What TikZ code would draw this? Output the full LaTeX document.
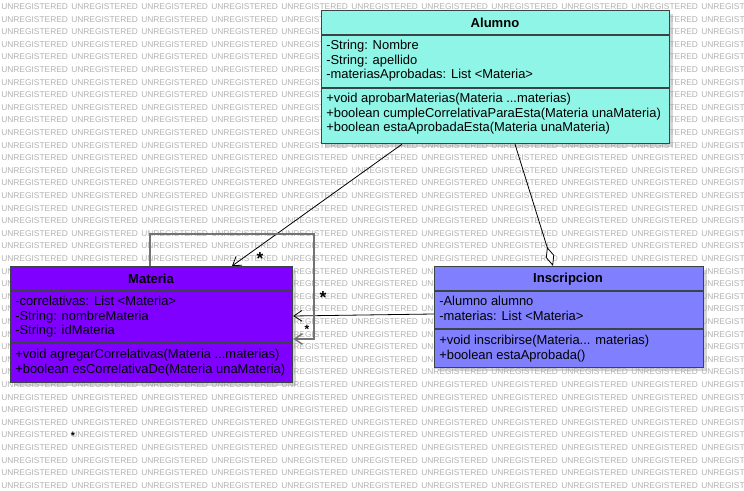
\documentclass[tikz,border=0pt]{standalone}
\usepackage{fontspec}
\setmainfont{Liberation Sans}
\usetikzlibrary{arrows.meta,shadows}
\definecolor{alumnoc}{HTML}{8FF5E6}
\definecolor{materiac}{HTML}{8000FF}
\definecolor{inscripc}{HTML}{8080FF}
\definecolor{borderc}{HTML}{3A4444}
\begin{document}
\begin{tikzpicture}[x=0.75pt,y=-0.75pt,
  wm/.style={anchor=west,inner sep=0pt,text=black!30,font=\fontsize{6.3}{6.3}\selectfont},
  classbox/.style={draw=borderc,line width=0.9pt,inner sep=0pt,anchor=north west,
    drop shadow={shadow xshift=2.5pt,shadow yshift=-2.5pt,fill=black!35,opacity=0.45}},
  title/.style={inner sep=0pt,font=\fontsize{9.8}{11}\selectfont\bfseries},
  member/.style={anchor=north west,align=left,inner sep=0pt,font=\fontsize{9.7}{10.9}\selectfont},
  sep/.style={draw=borderc,line width=0.9pt},
  assoc/.style={line width=0.6pt,-{Straight Barb[length=6pt,width=8pt]}},
  aggr/.style={line width=0.6pt,-{Diamond[fill=white,length=15pt,width=6.5pt]}},
  selfloop/.style={draw=black!55,line width=1.1pt,-{Straight Barb[length=6pt,width=8pt]}},
  mult/.style={inner sep=0pt,font=\fontsize{13}{13}\selectfont\bfseries}]
\useasboundingbox[fill=white] (0,0) rectangle (744,491);
\foreach \r in {0,...,38}
  \foreach \c in {0,...,10}
    \node[wm] at (1+70*\c,6.7+12.6*\r) {UNREGISTERED};

\node[classbox,fill=alumnoc,minimum width=261pt,minimum height=99.75pt] (alumno) at (321,10) {};
\draw[sep] (321,35) -- (669,35);
\draw[sep] (321,88) -- (669,88);
\node[title] (alumnoT) at (495,22.5) {Alumno};
\node[member] (alumnoA) at (326,40) {-String: Nombre\\-String: apellido\\-materiasAprobadas: List <Materia>};
\node[member] (alumnoM) at (326,93) {+void aprobarMaterias(Materia ...materias)\\+boolean cumpleCorrelativaParaEsta(Materia unaMateria)\\+boolean estaAprobadaEsta(Materia unaMateria)};

\node[classbox,fill=materiac,minimum width=211.5pt,minimum height=87pt] (materia) at (10,266) {};
\draw[sep] (10,291) -- (292,291);
\draw[sep] (10,343) -- (292,343);
\node[title] (materiaT) at (151,279) {Materia};
\node[member] (materiaA) at (15,296) {-correlativas: List <Materia>\\-String: nombreMateria\\-String: idMateria};
\node[member] (materiaM) at (15,349) {+void agregarCorrelativas(Materia ...materias)\\+boolean esCorrelativaDe(Materia unaMateria)};

\node[classbox,fill=inscripc,minimum width=201.75pt,minimum height=75.75pt] (inscrip) at (434,266) {};
\draw[sep] (434,291) -- (703,291);
\draw[sep] (434,329) -- (703,329);
\node[title] (inscripT) at (568,279) {Inscripcion};
\node[member] (inscripA) at (439,296) {-Alumno alumno\\-materias: List <Materia>};
\node[member] (inscripM) at (439,335) {+void inscribirse(Materia... materias)\\+boolean estaAprobada()};

\coordinate (loopc) at (314,234);
\draw[assoc] ([xshift=60.75pt]alumno.south west) -- ([xshift=166.5pt]materia.north west);
\draw[aggr] ([xshift=145.5pt]alumno.south west) -- ([xshift=89.25pt]inscrip.north west);
\draw[assoc] ([yshift=-36pt]inscrip.north west) -- ([yshift=-37.5pt]materia.north east);
\draw[selfloop] ([xshift=105pt]materia.north west) |- (loopc) |- ([yshift=-54.75pt]materia.north east);

\node[mult] (multA) at (260,259) {*};
\node[mult] (multB) at (323,298) {*};
\node[mult,font=\fontsize{9}{9}\selectfont\bfseries] (multC) at (307,329) {*};
\node[mult,font=\fontsize{8}{8}\selectfont\bfseries] (multD) at (73,436) {*};
\end{tikzpicture}
\end{document}
